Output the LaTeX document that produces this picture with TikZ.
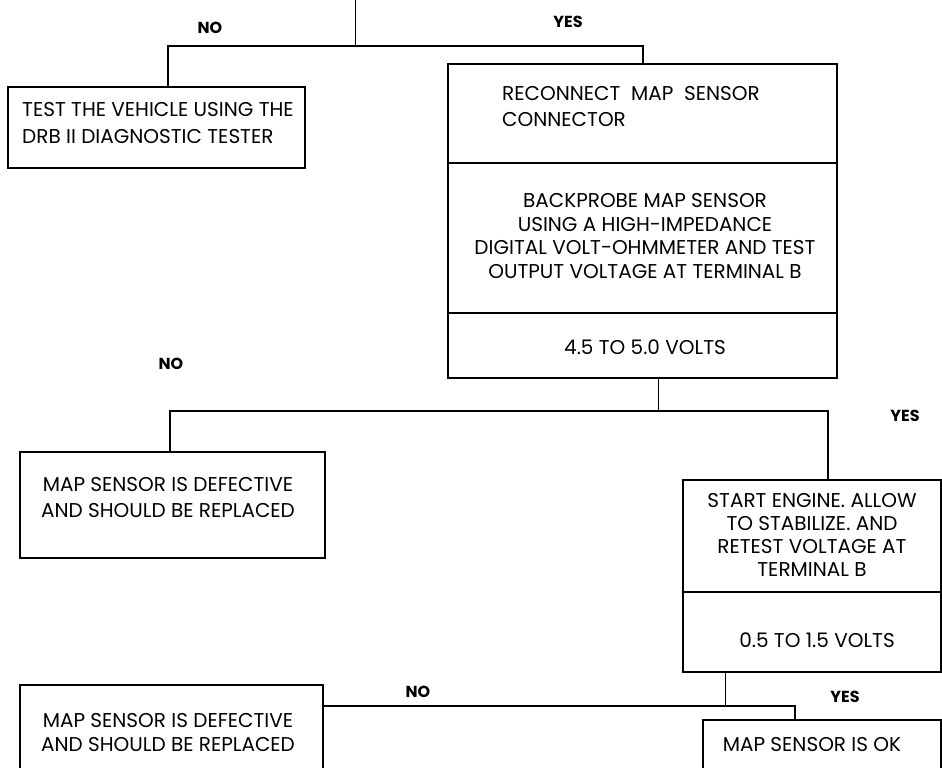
\documentclass[tikz,border=0pt]{standalone}
\usepackage{fontspec}
\setmainfont{Poppins}
\begin{document}
\begin{tikzpicture}[x=1pt,y=-1pt,
  box/.style={draw,line width=1.6pt,inner sep=0pt},
  txt/.style={font=\fontsize{20}{23.5}\selectfont,inner sep=0pt,align=center},
  lbl/.style={font=\fontsize{16}{18}\selectfont\bfseries,inner sep=0pt},
  conn/.style={line width=1.4pt},
  stem/.style={line width=0.9pt}]
\useasboundingbox (0,0) rectangle (942,768);
% boxes
\node[box,minimum width=297pt,minimum height=81pt] (b1) at (156.5,127.5) {};
\node[box,minimum width=389pt,minimum height=99pt] (b2a) at (642.5,113.5) {};
\node[box,minimum width=389pt,minimum height=150pt] (b2b) at (642.5,238) {};
\node[box,minimum width=389pt,minimum height=65pt] (b2c) at (642.5,345.5) {};
\node[box,minimum width=305pt,minimum height=106pt] (b3) at (172.5,505) {};
\node[box,minimum width=258pt,minimum height=112pt] (b4a) at (812,536) {};
\node[box,minimum width=258pt,minimum height=80pt] (b4b) at (812,632) {};
\node[box,minimum width=303pt,minimum height=100pt] (b5) at (171.5,735) {};
\node[box,minimum width=238pt,minimum height=70pt] (b6) at (822,755) {};
% texts
\node[txt,align=left,anchor=west,font=\fontsize{20}{27}\selectfont] (t1) at (22,123.5) {TEST THE VEHICLE USING THE\\DRB II DIAGNOSTIC TESTER};
\node[txt,align=left,anchor=west,font=\fontsize{20}{26}\selectfont] (t2a) at (502,107) {RECONNECT\ \ MAP\ \ SENSOR\\CONNECTOR};
\node[txt] (t2b) at (645,236) {BACKPROBE MAP SENSOR\\USING A HIGH-IMPEDANCE\\DIGITAL VOLT-OHMMETER AND TEST\\OUTPUT VOLTAGE AT TERMINAL B};
\node[txt] (t2c) at (645,347) {4.5 TO 5.0 VOLTS};
\node[txt,font=\fontsize{20}{26}\selectfont] (t3) at (168,498) {MAP SENSOR IS DEFECTIVE\\AND SHOULD BE REPLACED};
\node[txt,font=\fontsize{20}{23}\selectfont] (t4a) at (812,535) {START ENGINE. ALLOW\\TO STABILIZE. AND\\RETEST VOLTAGE AT\\TERMINAL B};
\node[txt] (t4b) at (817,640) {0.5 TO 1.5 VOLTS};
\node[txt,font=\fontsize{20}{24}\selectfont] (t5) at (168,733) {MAP SENSOR IS DEFECTIVE\\AND SHOULD BE REPLACED};
\node[txt] (t6) at (812,745) {MAP SENSOR IS OK};
% labels
\node[lbl] (n1) at (210,28) {NO};
\node[lbl] (y1) at (568,22) {YES};
\node[lbl] (n2) at (171,364) {NO};
\node[lbl] (y2) at (905,416) {YES};
\node[lbl] (n3) at (418,692) {NO};
\node[lbl] (y3) at (845,697) {YES};
% connectors
\coordinate (c0) at (355,0);
\coordinate (c1) at (355,46);
\coordinate (cl) at (168,46);
\coordinate (cr) at (643,46);
\draw[stem] (c0) -- (c1);
\draw[conn] (b1.north -| cl) -- (cl) -- (cr) -- (b2a.north -| cr);
\coordinate (m0) at (658,411);
\coordinate (ml) at (170,411);
\coordinate (mr) at (828,411);
\draw[stem] (b2c.south -| m0) -- (m0);
\draw[conn] (b3.north -| ml) -- (ml) -- (mr) -- (b4a.north -| mr);
\coordinate (k0) at (725,706);
\coordinate (kr) at (795,706);
\draw[stem] (b4b.south -| k0) -- (k0);
\draw[conn] (b5.east |- k0) -- (kr) -- (b6.north -| kr);
\end{tikzpicture}
\end{document}
